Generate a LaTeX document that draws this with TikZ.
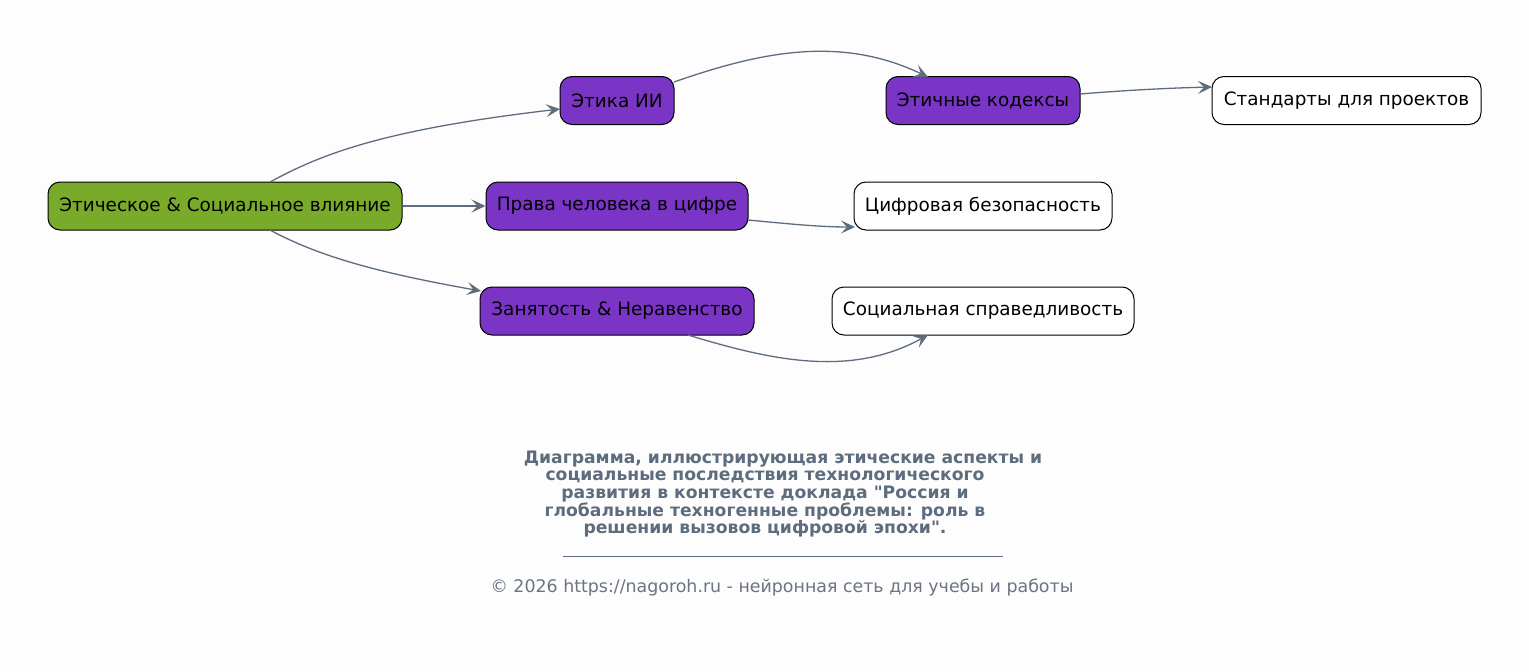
\documentclass[tikz,border=0pt]{standalone}
\usepackage{fontspec}
\setmainfont{DejaVu Sans}
\newfontfamily\dvplain{DejaVu Sans}
\usetikzlibrary{arrows.meta}
\definecolor{bgc}{HTML}{FDFDFD}
\definecolor{greenf}{HTML}{7AAA2A}
\definecolor{purplef}{HTML}{7A35C6}
\definecolor{edgec}{HTML}{5D6D7E}
\definecolor{footc}{HTML}{6B7480}
\tikzset{
  box/.style={draw=black, line width=1pt, rounded corners=12pt, minimum height=48pt, inner xsep=8pt, font=\fontsize{18.4}{21}\selectfont, text=black, anchor=center},
  rootbox/.style={box, fill=greenf},
  midbox/.style={box, fill=purplef},
  leafbox/.style={box, fill=white},
  link/.style={draw=edgec, line width=1.3pt, -{Stealth[length=14pt,width=13pt,inset=6pt]}},
  titleline/.style={font=\dvplain\bfseries\fontsize{17.2}{17.6}\selectfont, text=edgec, inner sep=0pt, anchor=center},
}
\begin{document}
\begin{tikzpicture}[x=1pt,y=-1pt]
\fill[bgc] (0,0) rectangle (1529,672);
\useasboundingbox (0,0) rectangle (1529,672);
\node[rootbox, minimum width=354pt] (root) at (225,206) {Этическое \& Социальное влияние};
\node[midbox, minimum width=114pt] (ai) at (617,100.5) {Этика ИИ};
\node[midbox, minimum width=262pt] (rights) at (617,206) {Права человека в цифре};
\node[midbox, minimum width=274pt] (jobs) at (617,311) {Занятость \& Неравенство};
\node[midbox, minimum width=194pt] (codes) at (983,100.5) {Этичные кодексы};
\node[leafbox, minimum width=258pt] (sec) at (983,206) {Цифровая безопасность};
\node[leafbox, minimum width=302pt] (just) at (983,311) {Социальная справедливость};
\node[leafbox, minimum width=269pt] (std) at (1346.5,100.5) {Стандарты для проектов};

\coordinate (r1) at (270,182);
\coordinate (r2) at (270,230);
\coordinate (aiin) at (560,109);
\coordinate (jobsin) at (481,291);
\coordinate (aiout) at (674,82);
\coordinate (codesin) at (928,77);
\coordinate (codesout) at (1080,94);
\coordinate (stdin) at (1212,87);
\coordinate (rightsout) at (748,220);
\coordinate (secin) at (855,227);
\coordinate (jobsout) at (688,335);
\coordinate (justin) at (928,335);

\draw[link] (r1) .. controls (320,155) and (380,130) .. (aiin);
\draw[link] (root.east) -- (rights.west);
\draw[link] (r2) .. controls (320,257) and (380,273) .. (jobsin);
\draw[link] (aiout) .. controls (760,52) and (840,35) .. (codesin);
\draw[link] (codesout) .. controls (1130,90) and (1170,88) .. (stdin);
\draw[link] (rightsout) .. controls (790,224) and (820,227) .. (secin);
\draw[link] (jobsout) .. controls (770,360) and (850,378) .. (justin);

\node[titleline] (t1) at (783,459) {Диаграмма, иллюстрирующая этические аспекты и};
\node[titleline] (t2) at (765,476.5) {социальные последствия технологического};
\node[titleline] (t3) at (765,494) {развития в контексте доклада "Россия и};
\node[titleline] (t4) at (765,511.5) {глобальные техногенные проблемы: роль в};
\node[titleline] (t5) at (765,529) {решении вызовов цифровой эпохи".};
\node[inner sep=0pt] (rule) at (783,556) {\textcolor{edgec}{\rule{440pt}{0.8pt}}};
\node[font=\fontsize{17.4}{20}\selectfont, text=footc] (copy) at (782,588) {© 2026 https://nagoroh.ru - нейронная сеть для учебы и работы};
\end{tikzpicture}
\end{document}
